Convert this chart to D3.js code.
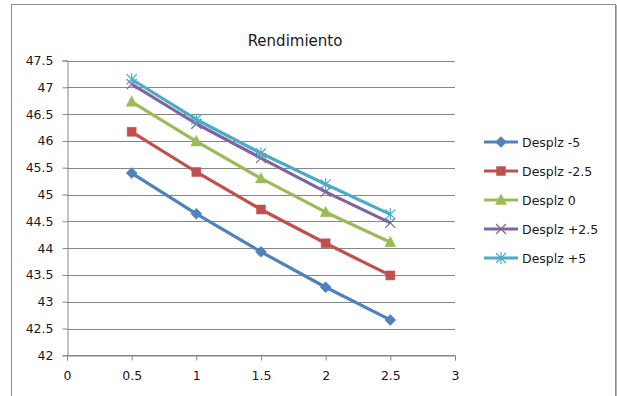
<!DOCTYPE html>
<html>
<head>
<meta charset="utf-8">
<script src="https://cdn.jsdelivr.net/npm/d3@7"></script>
<style>
  html, body { margin: 0; padding: 0; background: #fff; }
  svg { display: block; font-family: "DejaVu Sans", sans-serif; }
</style>
</head>
<body>
<svg id="chart" width="617" height="396"></svg>
<script>
// Rendimiento por desplazamiento
const xValues = [0.5, 1, 1.5, 2, 2.5];
const seriesNames = ["Desplz -5", "Desplz -2.5", "Desplz 0", "Desplz +2.5", "Desplz +5"];
const desplzM5  = [45.40, 44.64, 43.93, 43.27, 42.66];
const desplzM25 = [46.17, 45.42, 44.72, 44.09, 43.49];
const desplz0   = [46.73, 45.99, 45.30, 44.67, 44.11];
const desplzP25 = [47.06, 46.32, 45.68, 45.05, 44.47];
const desplzP5  = [47.15, 46.40, 45.77, 45.19, 44.63];
const xTicks = [0, 0.5, 1, 1.5, 2, 2.5, 3];
const yTicks = [42, 42.5, 43, 43.5, 44, 44.5, 45, 45.5, 46, 46.5, 47, 47.5];

const seriesValues = [desplzM5, desplzM25, desplz0, desplzP25, desplzP5];
const colors = ["#4F81BD", "#C0504D", "#9BBB59", "#8064A2", "#4BACC6"];
const markers = ["diamond", "square", "triangle", "cross", "star"];

const svg = d3.select("#chart");

// chart frame
svg.append("rect")
  .attr("x", 11.5).attr("y", 4.5)
  .attr("width", 604).attr("height", 400)
  .attr("fill", "none").attr("stroke", "#8c8c8c").attr("stroke-width", 1);
svg.append("line")
  .attr("x1", 616.5).attr("x2", 616.5).attr("y1", 5).attr("y2", 396)
  .attr("stroke", "#b5b5b5").attr("stroke-width", 1);

const x = d3.scaleLinear().domain([0, 3]).range([67, 455]);
const y = d3.scaleLinear().domain([42, 47.5]).range([355.3, 60.5]);

// horizontal gridlines
svg.append("g")
  .selectAll("line")
  .data(yTicks)
  .join("line")
  .attr("x1", x(0)).attr("x2", x(3))
  .attr("y1", d => Math.round(y(d)) + 0.5)
  .attr("y2", d => Math.round(y(d)) + 0.5)
  .attr("stroke", "#868686").attr("stroke-width", 1);

// y axis
const yAxis = svg.append("g")
  .attr("transform", `translate(${Math.round(x(0)) + 0.5},0)`)
  .call(d3.axisLeft(y).tickValues(yTicks).tickSize(5).tickPadding(9)
    .tickFormat(d => String(d)));
yAxis.select(".domain").attr("stroke", "#868686");
yAxis.selectAll(".tick line").attr("stroke", "#868686");
yAxis.selectAll(".tick text")
  .attr("font-size", "12.5px").attr("fill", "#1a1a1a")
  .attr("font-family", "DejaVu Sans, sans-serif");

// x axis
const xAxis = svg.append("g")
  .attr("transform", `translate(0,${Math.round(y(42)) + 0.5})`)
  .call(d3.axisBottom(x).tickValues(xTicks).tickSize(5).tickPadding(11)
    .tickFormat(d => String(d)));
xAxis.select(".domain").attr("stroke", "#868686");
xAxis.selectAll(".tick line").attr("stroke", "#868686");
xAxis.selectAll(".tick text")
  .attr("font-size", "12.5px").attr("fill", "#1a1a1a")
  .attr("font-family", "DejaVu Sans, sans-serif");

// title
svg.append("text")
  .attr("x", 295).attr("y", 46)
  .attr("text-anchor", "middle")
  .attr("font-size", "15px").attr("fill", "#1a1a1a")
  .text("Rendimiento");

// marker shapes, centred on (0,0)
function markerPath(kind) {
  switch (kind) {
    case "diamond": return "M0,-5.5L5.5,0L0,5.5L-5.5,0Z";
    case "square": return "M-4.5,-4.5H4.5V4.5H-4.5Z";
    case "triangle": return "M0,-6L5.5,4.5H-5.5Z";
    case "cross": return "M-5,-5L5,5M-5,5L5,-5";
    case "star": return "M-5,-5L5,5M-5,5L5,-5M0,-6V6";
  }
}
function drawMarker(g, kind, color) {
  const filled = kind === "diamond" || kind === "square" || kind === "triangle";
  g.append("path")
    .attr("d", markerPath(kind))
    .attr("fill", filled ? color : "none")
    .attr("stroke", color)
    .attr("stroke-width", filled ? 0.5 : 1.2);
}

const line = d3.line().x((d, i) => x(xValues[i])).y(d => y(d));

seriesValues.forEach((vals, s) => {
  const g = svg.append("g");
  g.append("path")
    .datum(vals)
    .attr("d", line)
    .attr("fill", "none")
    .attr("stroke", colors[s])
    .attr("stroke-width", 3.2)
    .attr("stroke-linejoin", "round");
  vals.forEach((v, i) => {
    const m = g.append("g").attr("transform", `translate(${x(xValues[i])},${y(v)})`);
    drawMarker(m, markers[s], colors[s]);
  });
});

// legend
const legendRows = [142, 171, 200, 229, 258];
seriesNames.forEach((name, s) => {
  const g = svg.append("g").attr("transform", `translate(0,${legendRows[s]})`);
  g.append("line")
    .attr("x1", 484).attr("x2", 518).attr("y1", 0).attr("y2", 0)
    .attr("stroke", colors[s]).attr("stroke-width", 3.2);
  const m = g.append("g").attr("transform", "translate(501,0)");
  drawMarker(m, markers[s], colors[s]);
  g.append("text")
    .attr("x", 522).attr("y", 4.5)
    .attr("font-size", "12.5px").attr("fill", "#1a1a1a")
    .text(name);
});
</script>
</body>
</html>
